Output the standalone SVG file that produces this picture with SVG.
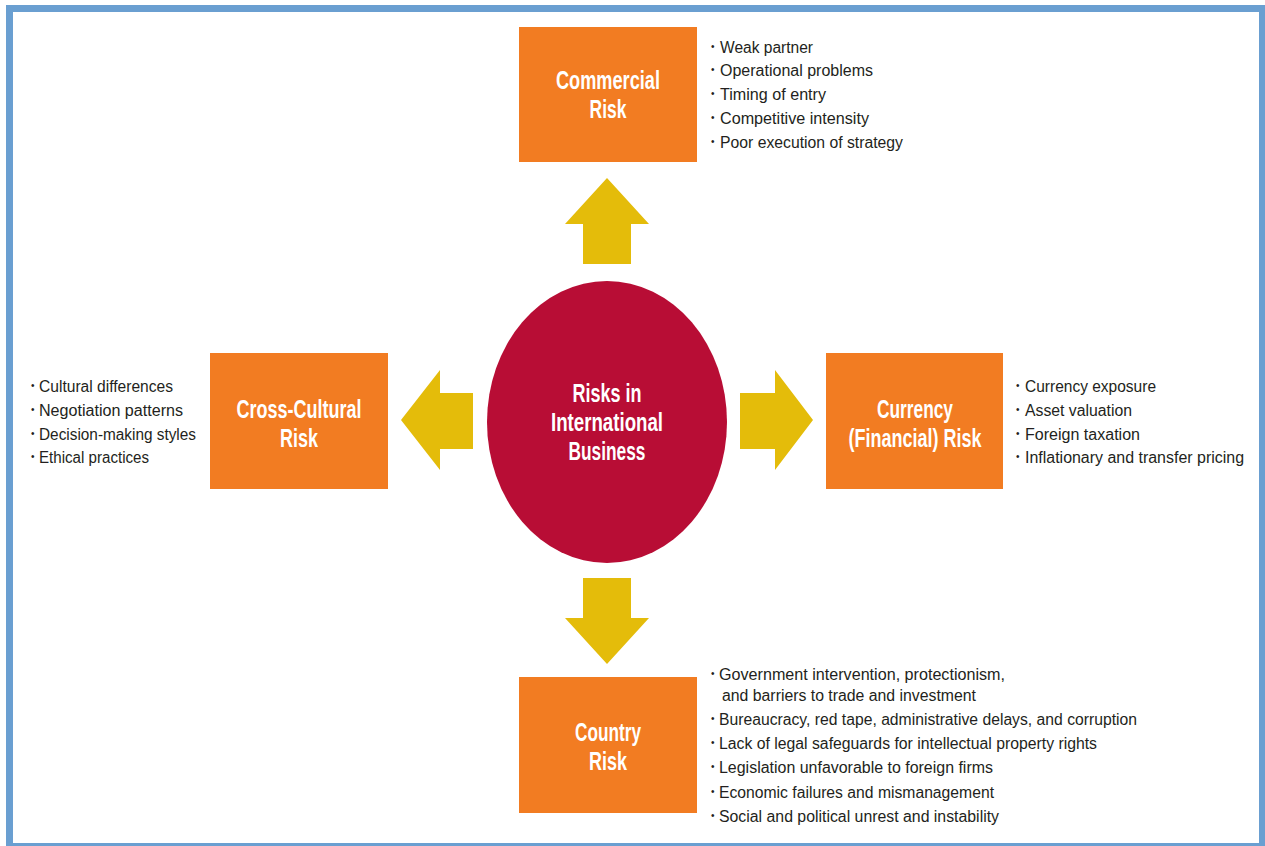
<svg xmlns="http://www.w3.org/2000/svg" width="1265" height="846" viewBox="0 0 1265 846">
  <style>
    .frame { fill: #ffffff; stroke: #6a9fd1; stroke-width: 7; }
    .box { fill: #f27c22; }
    .hub { fill: #b80d35; }
    .arrow { fill: #e4bc0a; }
    .title { font-family: "Liberation Sans", Arial, sans-serif; font-weight: bold; font-size: 25px; fill: #ffffff; text-anchor: middle; }
    .item { font-family: "Liberation Sans", Arial, sans-serif; font-size: 16px; fill: #231f20; }
    .dot { font-family: "Liberation Sans", Arial, sans-serif; font-size: 10px; fill: #231f20; }
  </style>

  <!-- page frame -->
  <rect class="frame" x="9.5" y="8.5" width="1253" height="838"/>

  <!-- arrows from the hub to each risk category -->
  <g id="connectors">
    <polygon class="arrow" points="607,178 649,224 631,224 631,264 583,264 583,224 565,224"/>
    <polygon class="arrow" points="583,578 631,578 631,618 649,618 607,664 565,618 583,618"/>
    <polygon class="arrow" points="401,420 440,370 440,393 473,393 473,449 440,449 440,470"/>
    <polygon class="arrow" points="813,420 775,370 775,393 740,393 740,449 775,449 775,470"/>
  </g>

  <!-- central hub -->
  <g id="hub">
    <ellipse class="hub" cx="607" cy="422" rx="120" ry="141"/>
    <text class="title" x="607" y="402" textLength="69" lengthAdjust="spacingAndGlyphs">Risks in</text>
    <text class="title" x="607" y="431" textLength="112" lengthAdjust="spacingAndGlyphs">International</text>
    <text class="title" x="607" y="460" textLength="77" lengthAdjust="spacingAndGlyphs">Business</text>
  </g>

  <!-- commercial risk -->
  <g id="commercial">
    <rect class="box" x="519" y="27" width="178" height="135"/>
    <text class="title" x="608" y="89" textLength="104" lengthAdjust="spacingAndGlyphs">Commercial</text>
    <text class="title" x="608" y="118" textLength="37" lengthAdjust="spacingAndGlyphs">Risk</text>
    <text class="dot" x="711" y="50">•</text>
    <text class="item" x="720" y="53" textLength="93" lengthAdjust="spacingAndGlyphs">Weak partner</text>
    <text class="dot" x="711" y="73">•</text>
    <text class="item" x="720" y="76" textLength="153" lengthAdjust="spacingAndGlyphs">Operational problems</text>
    <text class="dot" x="711" y="97">•</text>
    <text class="item" x="720" y="100" textLength="106" lengthAdjust="spacingAndGlyphs">Timing of entry</text>
    <text class="dot" x="711" y="121">•</text>
    <text class="item" x="720" y="124" textLength="149" lengthAdjust="spacingAndGlyphs">Competitive intensity</text>
    <text class="dot" x="711" y="145">•</text>
    <text class="item" x="720" y="148" textLength="183" lengthAdjust="spacingAndGlyphs">Poor execution of strategy</text>
  </g>

  <!-- cross-cultural risk -->
  <g id="cross-cultural">
    <rect class="box" x="210" y="353" width="178" height="136"/>
    <text class="title" x="299" y="418" textLength="125" lengthAdjust="spacingAndGlyphs">Cross-Cultural</text>
    <text class="title" x="299" y="447" textLength="38" lengthAdjust="spacingAndGlyphs">Risk</text>
    <text class="dot" x="31" y="389">•</text>
    <text class="item" x="39" y="392" textLength="134" lengthAdjust="spacingAndGlyphs">Cultural differences</text>
    <text class="dot" x="31" y="413">•</text>
    <text class="item" x="39" y="416" textLength="144" lengthAdjust="spacingAndGlyphs">Negotiation patterns</text>
    <text class="dot" x="31" y="437">•</text>
    <text class="item" x="39" y="440" textLength="157" lengthAdjust="spacingAndGlyphs">Decision-making styles</text>
    <text class="dot" x="31" y="460">•</text>
    <text class="item" x="39" y="463" textLength="110" lengthAdjust="spacingAndGlyphs">Ethical practices</text>
  </g>

  <!-- currency (financial) risk -->
  <g id="currency">
    <rect class="box" x="826" y="353" width="177" height="136"/>
    <text class="title" x="915" y="418" textLength="76" lengthAdjust="spacingAndGlyphs">Currency</text>
    <text class="title" x="915" y="447" textLength="133" lengthAdjust="spacingAndGlyphs">(Financial) Risk</text>
    <text class="dot" x="1016" y="389">•</text>
    <text class="item" x="1025" y="392" textLength="131" lengthAdjust="spacingAndGlyphs">Currency exposure</text>
    <text class="dot" x="1016" y="413">•</text>
    <text class="item" x="1025" y="416" textLength="107" lengthAdjust="spacingAndGlyphs">Asset valuation</text>
    <text class="dot" x="1016" y="437">•</text>
    <text class="item" x="1025" y="440" textLength="115" lengthAdjust="spacingAndGlyphs">Foreign taxation</text>
    <text class="dot" x="1016" y="460">•</text>
    <text class="item" x="1025" y="463" textLength="219" lengthAdjust="spacingAndGlyphs">Inflationary and transfer pricing</text>
  </g>

  <!-- country risk -->
  <g id="country">
    <rect class="box" x="519" y="677" width="178" height="136"/>
    <text class="title" x="608" y="741" textLength="66" lengthAdjust="spacingAndGlyphs">Country</text>
    <text class="title" x="608" y="770" textLength="38" lengthAdjust="spacingAndGlyphs">Risk</text>
    <text class="dot" x="711" y="677">•</text>
    <text class="item" x="719" y="680" textLength="286" lengthAdjust="spacingAndGlyphs">Government intervention, protectionism,</text>
    <text class="item" x="722" y="701" textLength="254" lengthAdjust="spacingAndGlyphs">and barriers to trade and investment</text>
    <text class="dot" x="711" y="722">•</text>
    <text class="item" x="719" y="725" textLength="418" lengthAdjust="spacingAndGlyphs">Bureaucracy, red tape, administrative delays, and corruption</text>
    <text class="dot" x="711" y="746">•</text>
    <text class="item" x="719" y="749" textLength="378" lengthAdjust="spacingAndGlyphs">Lack of legal safeguards for intellectual property rights</text>
    <text class="dot" x="711" y="770">•</text>
    <text class="item" x="719" y="773" textLength="274" lengthAdjust="spacingAndGlyphs">Legislation unfavorable to foreign firms</text>
    <text class="dot" x="711" y="795">•</text>
    <text class="item" x="719" y="798" textLength="275" lengthAdjust="spacingAndGlyphs">Economic failures and mismanagement</text>
    <text class="dot" x="711" y="819">•</text>
    <text class="item" x="719" y="822" textLength="280" lengthAdjust="spacingAndGlyphs">Social and political unrest and instability</text>
  </g>
</svg>
